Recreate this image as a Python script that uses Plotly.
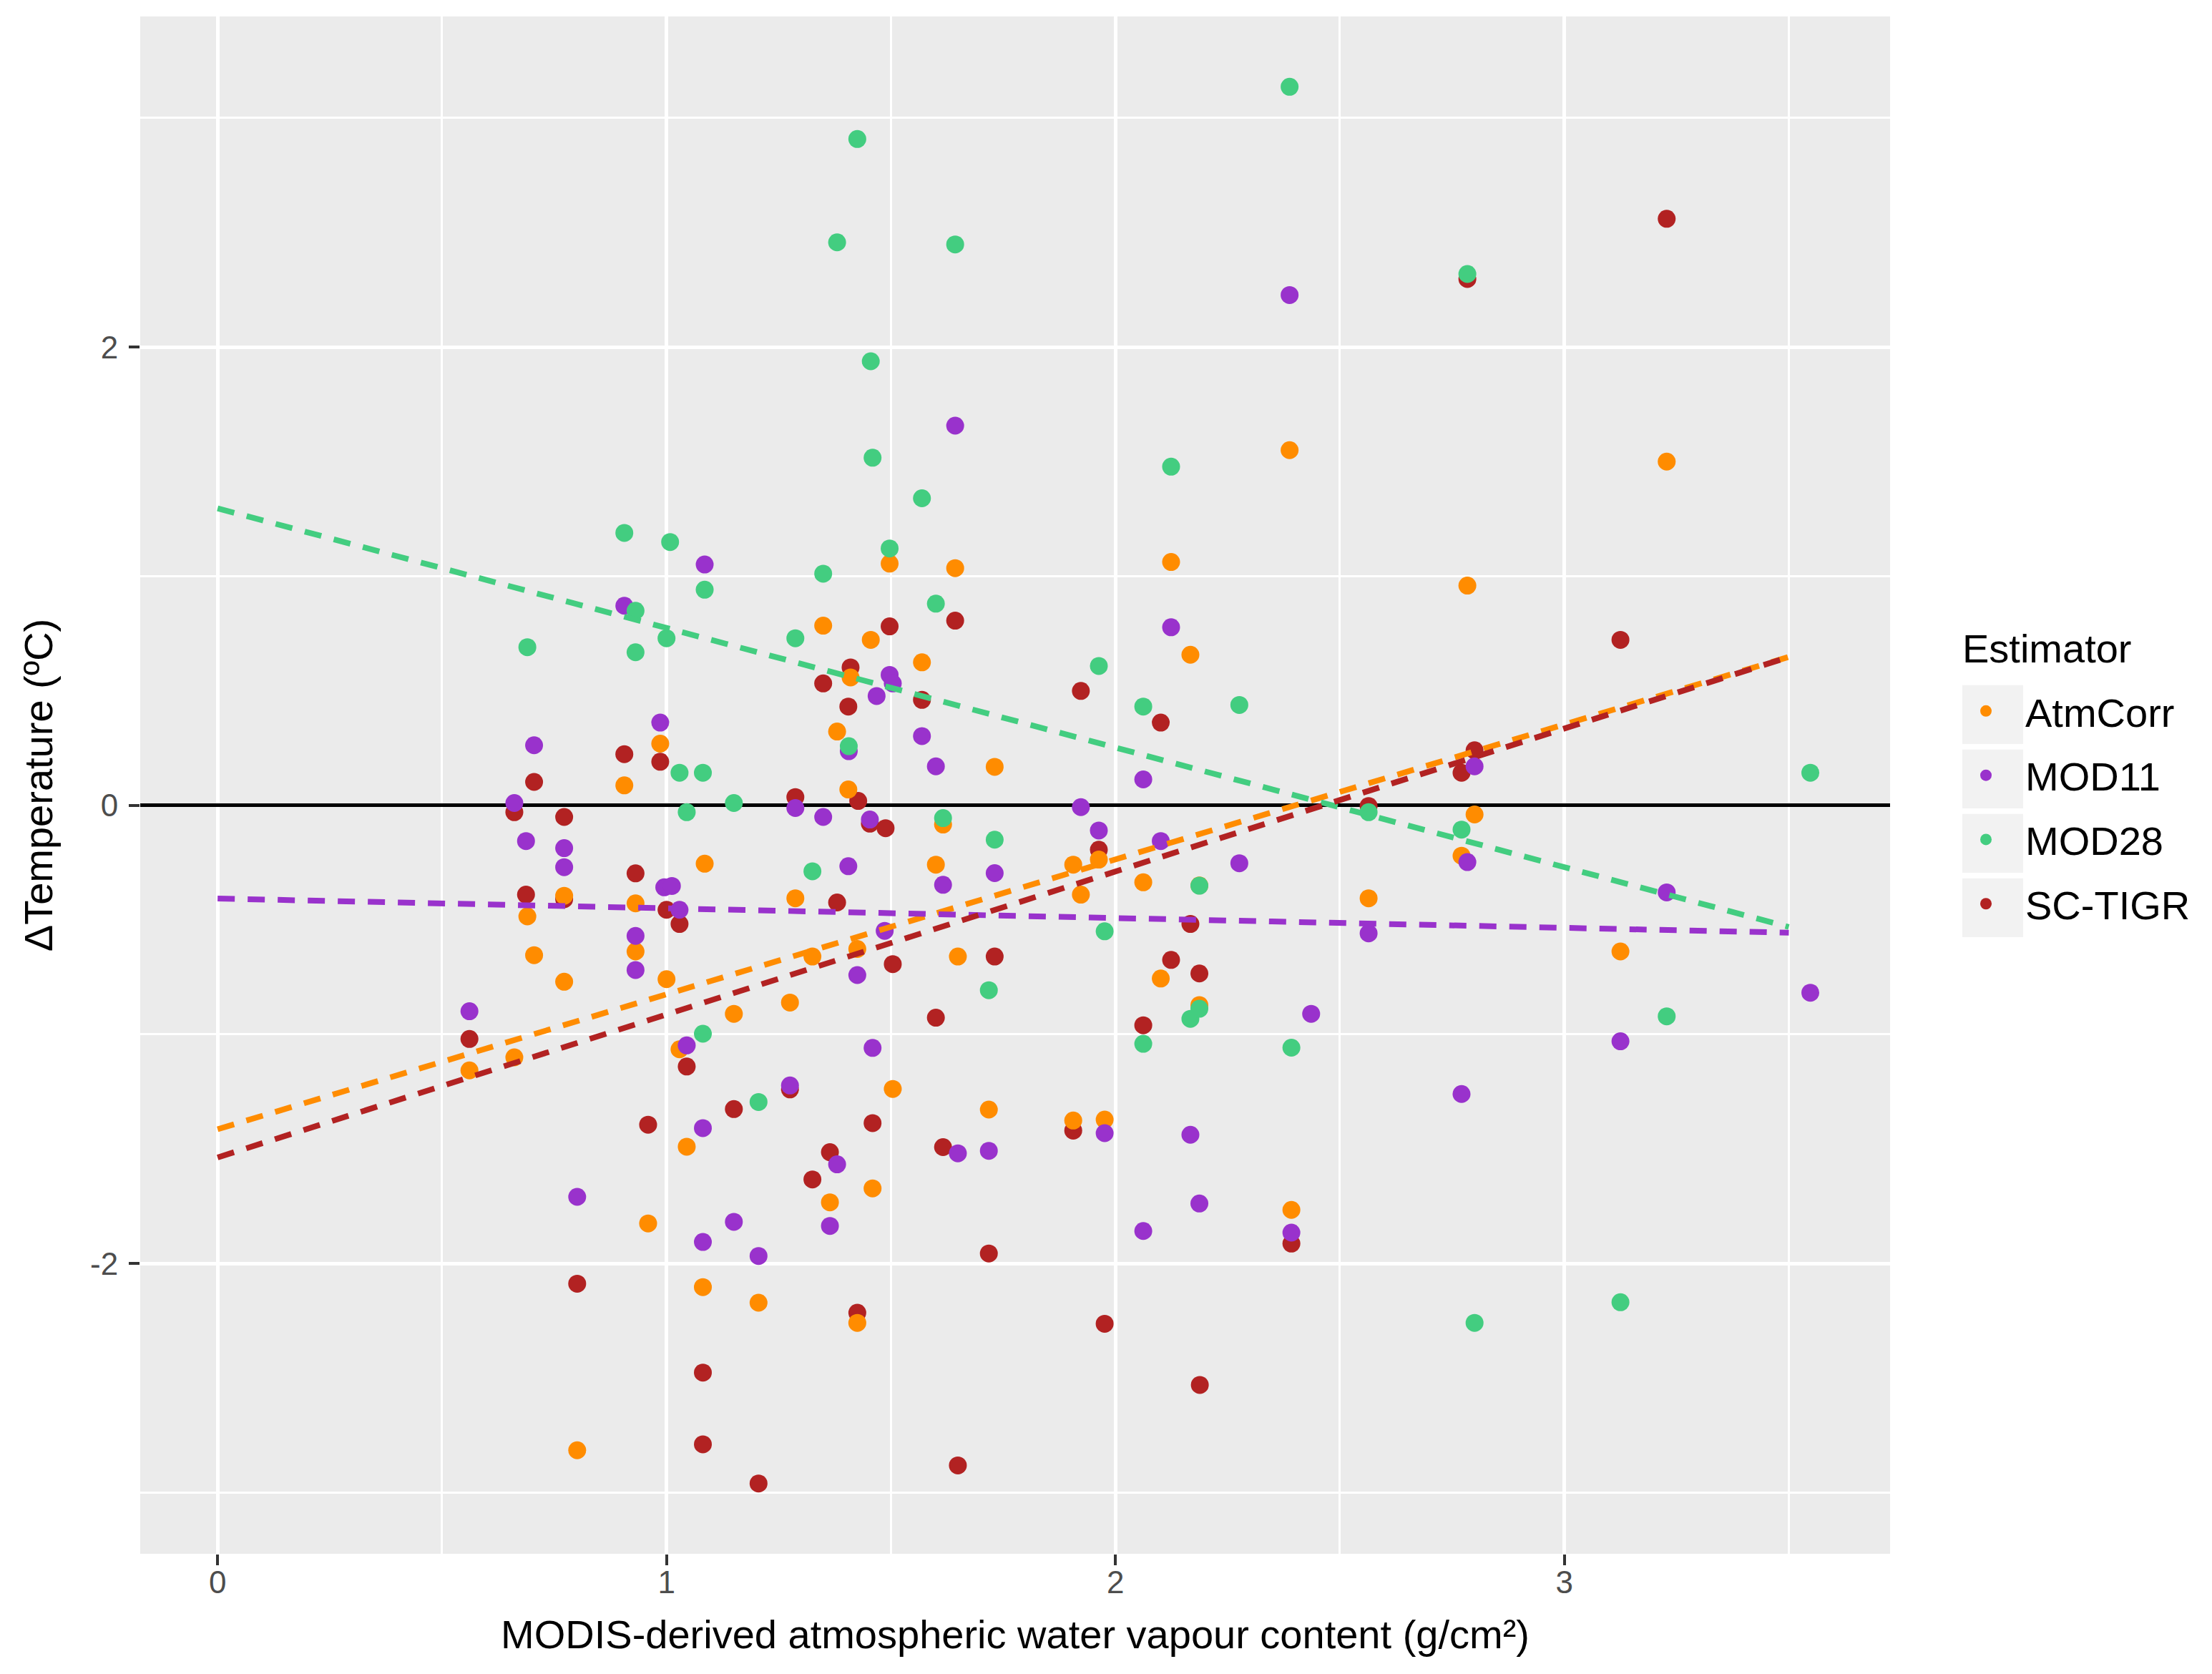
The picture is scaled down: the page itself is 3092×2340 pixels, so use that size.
import plotly.graph_objects as go

# values
estimators = ["AtmCorr", "MOD11", "MOD28", "SC-TIGR"]
colors = {"AtmCorr": "#FF8C00", "MOD11": "#9932CC", "MOD28": "#43CD80", "SC-TIGR": "#B22222"}

atm_x = [0.561, 0.661, 0.69, 0.705, 0.772, 0.772, 0.801, 0.906, 0.931, 0.931, 0.959, 0.986, 1.0,
         1.029, 1.045, 1.085, 1.081, 1.15, 1.205, 1.275, 1.287, 1.325, 1.349, 1.364, 1.38, 1.405,
         1.41, 1.425, 1.425, 1.455, 1.459, 1.497, 1.504, 1.569, 1.60, 1.616, 1.643, 1.649, 1.731,
         1.718, 1.906, 1.923, 1.906, 1.963, 1.976, 2.062, 2.101, 2.124, 2.167, 2.187, 2.187, 2.388,
         2.392, 2.564, 2.771, 2.784, 2.8, 3.125, 3.228]
atm_y = [-1.157, -1.10, -0.485, -0.654, -0.395, -0.77, -2.815, 0.087, -0.428, -0.638, -1.825, 0.269,
         -0.759, -1.065, -1.49, -0.255, -2.103, -0.91, -2.171, -0.861, -0.406, -0.66, 0.784, -1.733,
         0.322, 0.069, 0.558, -0.627, -2.259, 0.722, -1.672, 1.055, -1.238, 0.624, -0.259, -0.084,
         1.035, -0.66, 0.168, -1.328, -0.259, -0.39, -1.376, -0.237, -1.372, -0.336, -0.756, 1.062,
         0.657, -0.35, -0.872, 1.55, -1.766, -0.406, -0.22, 0.959, -0.04, -0.638, 1.50]

mod11_x = [0.561, 0.661, 0.687, 0.705, 0.772, 0.772, 0.801, 0.906, 0.931, 0.931, 0.986, 0.995, 1.012,
           1.029, 1.045, 1.085, 1.081, 1.081, 1.15, 1.205, 1.275, 1.287, 1.349, 1.364, 1.38, 1.405,
           1.406, 1.425, 1.453, 1.459, 1.468, 1.486, 1.497, 1.504, 1.569, 1.60, 1.616, 1.643, 1.649,
           1.731, 1.718, 1.923, 1.963, 1.976, 2.062, 2.062, 2.101, 2.124, 2.167, 2.187, 2.276, 2.388,
           2.392, 2.436, 2.564, 2.784, 2.8, 2.771, 3.125, 3.228, 3.548]
mod11_y = [-0.899, 0.01, -0.156, 0.262, -0.187, -0.27, -1.709, 0.871, -0.57, -0.719, 0.361, -0.358,
           -0.352, -0.456, -1.048, 1.051, -1.409, -1.906, -1.818, -1.967, -1.223, -0.012, -0.051,
           -1.836, -1.567, -0.266, 0.236, -0.741, -0.062, -1.059, 0.477, -0.548, 0.569, 0.532, 0.302,
           0.17, -0.347, 1.657, -1.519, -0.296, -1.508, -0.008, -0.11, -1.431, 0.113, -1.858, -0.156,
           0.777, -1.438, -1.738, -0.253, 2.227, -1.865, -0.91, -0.559, -0.248, 0.17, -1.26, -1.03,
           -0.38, -0.818]

mod28_x = [0.69, 0.906, 0.931, 0.931, 1.0, 1.008, 1.029, 1.045, 1.081, 1.085, 1.081, 1.15, 1.205,
           1.287, 1.325, 1.349, 1.38, 1.406, 1.425, 1.455, 1.459, 1.497, 1.569, 1.60, 1.616, 1.643,
           1.731, 1.718, 1.963, 1.976, 2.062, 2.062, 2.124, 2.167, 2.187, 2.187, 2.276, 2.388, 2.392,
           2.564, 2.771, 2.784, 2.8, 3.125, 3.228, 3.548]
mod28_y = [0.69, 1.189, 0.849, 0.668, 0.729, 1.149, 0.142, -0.03, 0.142, 0.941, -0.997, 0.01, -1.295,
           0.729, -0.288, 1.011, 2.457, 0.258, 2.908, 1.938, 1.517, 1.121, 1.34, 0.88, -0.056, 2.448,
           -0.15, -0.807, 0.608, -0.55, 0.431, -1.041, 1.478, -0.932, -0.351, -0.888, 0.438, 3.136,
           -1.058, -0.03, -0.106, 2.319, -2.259, -2.169, -0.921, 0.142]

sctigr_x = [0.561, 0.661, 0.687, 0.705, 0.772, 0.772, 0.801, 0.906, 0.931, 0.959, 0.986, 1.0, 1.029,
            1.045, 1.081, 1.081, 1.15, 1.205, 1.275, 1.287, 1.325, 1.349, 1.364, 1.38, 1.405, 1.41,
            1.427, 1.425, 1.453, 1.459, 1.488, 1.497, 1.504, 1.569, 1.60, 1.616, 1.643, 1.649, 1.731,
            1.718, 1.906, 1.923, 1.963, 1.976, 2.062, 2.101, 2.124, 2.167, 2.187, 2.188, 2.392, 2.564,
            2.771, 2.784, 2.8, 3.125, 3.228]
sctigr_y = [-1.02, -0.03, -0.39, 0.102, -0.051, -0.41, -2.088, 0.223, -0.297, -1.394, 0.19, -0.456,
            -0.518, -1.14, -2.476, -2.789, -1.326, -2.96, -1.24, 0.036, -1.633, 0.532, -1.514, -0.424,
            0.431, 0.602, 0.019, -2.215, -0.08, -1.387, -0.1, 0.781, -0.693, 0.46, -0.927, -1.492,
            0.806, -2.881, -0.66, -1.956, -1.42, 0.499, -0.194, -2.263, -0.96, 0.361, -0.675, -0.518,
            -0.734, -2.53, -1.913, -0.003, 0.142, 2.297, 0.24, 0.722, 2.56]

# dashed linear fits (intercept, slope), drawn over x = 0 .. 3.5
fit_intercept = {"AtmCorr": -1.414, "MOD11": -0.407, "MOD28": 1.296, "SC-TIGR": -1.537}
fit_slope = {"AtmCorr": 0.589, "MOD11": -0.0426, "MOD28": -0.522, "SC-TIGR": 0.624}
fit_x = [0, 3.5]

x_ticks = [0, 1, 2, 3]
x_ticklabels = ["0", "1", "2", "3"]
y_ticks = [-2, 0, 2]
y_ticklabels = ["-2", "0", "2"]

points = {
    "AtmCorr": (atm_x, atm_y),
    "MOD11": (mod11_x, mod11_y),
    "MOD28": (mod28_x, mod28_y),
    "SC-TIGR": (sctigr_x, sctigr_y),
}

FONT = "Liberation Sans, Arial, Helvetica, sans-serif"

fig = go.Figure()

# drawing order seen in the picture: red at the bottom, green on top
draw_order = ["SC-TIGR", "AtmCorr", "MOD11", "MOD28"]
for name in draw_order:
    xs, ys = points[name]
    fig.add_trace(go.Scatter(
        x=xs, y=ys, mode="markers", name=name,
        legendgroup=name, legendrank=estimators.index(name) + 1,
        marker=dict(color=colors[name], size=25, line=dict(width=0)),
    ))

for name in estimators:
    ys = [fit_intercept[name] + fit_slope[name] * x for x in fit_x]
    fig.add_trace(go.Scatter(
        x=fit_x, y=ys, mode="lines", showlegend=False,
        line=dict(color=colors[name], width=8, dash="24px,18px"),
    ))

axis_common = dict(
    showline=False, ticks="outside", ticklen=15, tickwidth=4, tickcolor="#333333",
    tickfont=dict(family=FONT, size=44, color="#4D4D4D"),
    gridcolor="white", gridwidth=5,
)

# grey key boxes behind the legend symbols (ggplot style)
key_shapes = []
for i, name in enumerate(estimators):
    top = 0.5650 - i * 0.04188
    key_shapes.append(dict(
        type="rect", xref="paper", yref="paper",
        x0=1.0413, x1=1.0760, y0=top - 0.0382, y1=top,
        fillcolor="#F2F2F2", line=dict(width=0), layer="below",
    ))

fig.update_layout(
    width=3092, height=2340,
    margin=dict(l=188, r=458, t=15, b=176),
    paper_bgcolor="white", plot_bgcolor="#EBEBEB",
    font=dict(family=FONT, color="black"),
    xaxis=dict(
        range=[-0.1724, 3.7256], tickmode="array", tickvals=x_ticks, ticktext=x_ticklabels,
        zeroline=False, ticklabelstandoff=-14,
        minor=dict(tickmode="linear", dtick=0.5, tick0=0, showgrid=True,
                   gridcolor="white", gridwidth=2.5, ticks=""),
        title=dict(text="MODIS-derived atmospheric water vapour content (g/cm²)",
                   font=dict(family=FONT, size=56, color="black"), standoff=30),
        **axis_common,
    ),
    yaxis=dict(
        range=[-3.267, 3.443], tickmode="array", tickvals=y_ticks, ticktext=y_ticklabels,
        zeroline=True, zerolinecolor="black", zerolinewidth=5, ticklabelstandoff=6,
        minor=dict(tickmode="linear", dtick=1, tick0=0, showgrid=True,
                   gridcolor="white", gridwidth=2.5, ticks=""),
        title=dict(text="ΔTemperature (ºC)",
                   font=dict(family=FONT, size=56, color="black"), standoff=34),
        **axis_common,
    ),
    legend=dict(
        font=dict(family=FONT, size=56, color="black"),
        x=1.0323, xanchor="left", y=0.5682, yanchor="top",
        tracegroupgap=14, itemwidth=100, bgcolor="rgba(0,0,0,0)",
    ),
    annotations=[dict(
        text="Estimator", xref="paper", yref="paper", x=1.0405, y=0.5887,
        xanchor="left", yanchor="middle", showarrow=False,
        font=dict(family=FONT, size=56, color="black"),
    )],
    shapes=key_shapes,
    showlegend=True,
)

fig.write_html("out.html")
